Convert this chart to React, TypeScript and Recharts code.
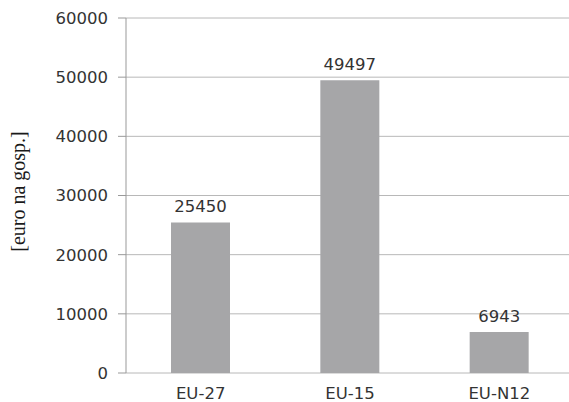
import { BarChart, Bar, XAxis, YAxis, CartesianGrid, LabelList, Label } from 'recharts';

const regions = ['EU-27', 'EU-15', 'EU-N12'];
const income = [25450, 49497, 6943];
const yTicks = [0, 10000, 20000, 30000, 40000, 50000, 60000];
const edgeTicks = [-0.5, 0.5, 1.5, 2.5];

const data = regions.map((name, i) => ({ name, value: income[i] }));

const tickFont = { fontFamily: 'DejaVu Sans', fontSize: 16.5, fill: '#333' };

export default function App() {
  return (
    <div style={{ position: 'absolute', left: 0, top: 0, width: 569, height: 402, overflow: 'hidden', background: '#fff' }}>
      <BarChart width={580} height={402} data={data} margin={{ top: 18, right: 6, bottom: 0, left: 0 }} barCategoryGap="20%">
        <CartesianGrid horizontal vertical={false} stroke="#b8b8b8" />
        <XAxis
          xAxisId="edges"
          type="number"
          domain={[-0.5, 2.5]}
          ticks={edgeTicks}
          tick={false}
          tickSize={6}
          height={0}
          stroke="#999"
          axisLine={{ stroke: '#999' }}
          tickLine={{ stroke: '#999' }}
        />
        <XAxis
          dataKey="name"
          height={29}
          tickLine={false}
          axisLine={false}
          tickMargin={8}
          tick={tickFont}
        />
        <YAxis
          width={126}
          domain={[0, 60000]}
          ticks={yTicks}
          tickSize={8}
          tickMargin={10}
          tick={tickFont}
          stroke="#999"
        >
          <Label
            value="[euro na gosp.]"
            angle={-90}
            position="insideLeft"
            offset={0}
            dx={18}
            dy={-4}
            style={{ fontFamily: 'Liberation Serif', fontSize: 20, fill: '#1a1a1a', textAnchor: 'middle' }}
          />
        </YAxis>
        <Bar dataKey="value" fill="#a6a6a8" barSize={59} isAnimationActive={false}>
          <LabelList dataKey="value" position="top" offset={10} style={tickFont} />
        </Bar>
      </BarChart>
    </div>
  );
}
